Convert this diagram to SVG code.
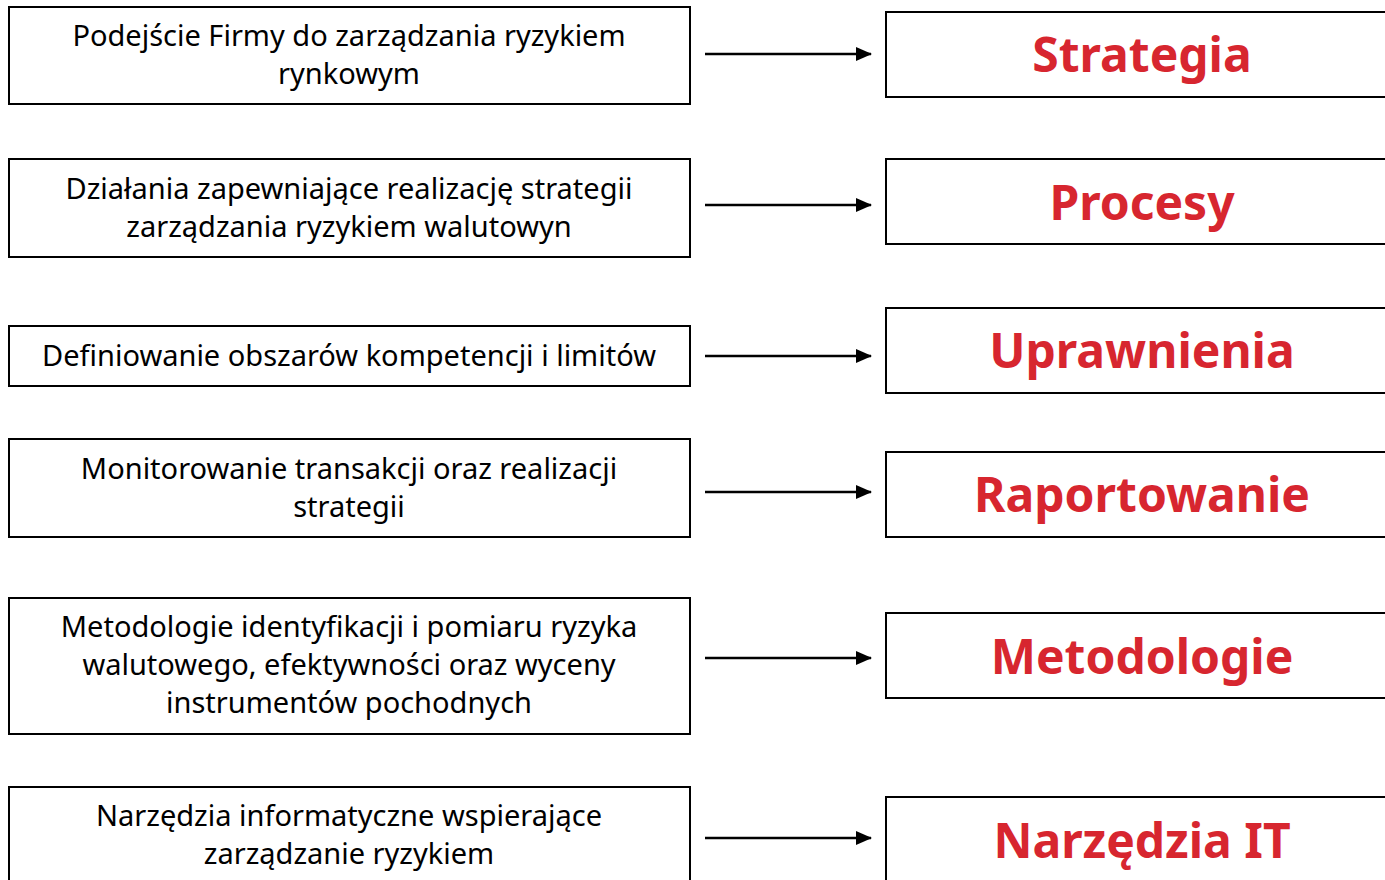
<svg xmlns="http://www.w3.org/2000/svg" width="1385" height="880" viewBox="0 0 1385 880">
<defs>
<marker id="ah" markerWidth="16" markerHeight="14" refX="15" refY="7" orient="auto" markerUnits="userSpaceOnUse">
<path d="M0,0 L16,7 L0,14 Z" fill="#000"/>
</marker>
<style>
.box{fill:#fff;stroke:#000;stroke-width:2}
.lt{font-family:"Noto Sans","Liberation Sans",sans-serif;font-size:29px;fill:#000;text-anchor:middle}
.rt{font-family:"Noto Sans","Liberation Sans",sans-serif;font-size:48px;font-weight:bold;fill:#d7262f;text-anchor:middle}
.con{stroke:#000;stroke-width:2.5;fill:none;marker-end:url(#ah)}
</style>
</defs>
<rect width="1385" height="880" fill="#fff"/>
<g id="l1"><rect class="box" x="9" y="7" width="681" height="97"/><text class="lt" x="349" y="46">Podejście Firmy do zarządzania ryzykiem</text><text class="lt" x="349" y="84">rynkowym</text></g>
<g id="l2"><rect class="box" x="9" y="159" width="681" height="98"/><text class="lt" x="349" y="199">Działania zapewniające realizację strategii</text><text class="lt" x="349" y="237">zarządzania ryzykiem walutowyn</text></g>
<g id="l3"><rect class="box" x="9" y="326" width="681" height="60"/><text class="lt" x="349" y="366">Definiowanie obszarów kompetencji i limitów</text></g>
<g id="l4"><rect class="box" x="9" y="439" width="681" height="98"/><text class="lt" x="349" y="479">Monitorowanie transakcji oraz realizacji</text><text class="lt" x="349" y="517">strategii</text></g>
<g id="l5"><rect class="box" x="9" y="598" width="681" height="136"/><text class="lt" x="349" y="637">Metodologie identyfikacji i pomiaru ryzyka</text><text class="lt" x="349" y="675">walutowego, efektywności oraz wyceny</text><text class="lt" x="349" y="713">instrumentów pochodnych</text></g>
<g id="l6"><rect class="box" x="9" y="787" width="681" height="110"/><text class="lt" x="349" y="826">Narzędzia informatyczne wspierające</text><text class="lt" x="349" y="864">zarządzanie ryzykiem</text></g>
<g id="r1"><rect class="box" x="886" y="12" width="520" height="85"/><text class="rt" x="1142" y="72">Strategia</text></g>
<g id="r2"><rect class="box" x="886" y="159" width="520" height="85"/><text class="rt" x="1142" y="220">Procesy</text></g>
<g id="r3"><rect class="box" x="886" y="308" width="520" height="85"/><text class="rt" x="1142" y="368">Uprawnienia</text></g>
<g id="r4"><rect class="box" x="886" y="452" width="520" height="85"/><text class="rt" x="1142" y="512">Raportowanie</text></g>
<g id="r5"><rect class="box" x="886" y="613" width="520" height="85"/><text class="rt" x="1142" y="674">Metodologie</text></g>
<g id="r6"><rect class="box" x="886" y="797" width="520" height="110"/><text class="rt" x="1142" y="858">Narzędzia IT</text></g>
<g id="connectors">
<line class="con" x1="705" y1="54" x2="871" y2="54"/>
<line class="con" x1="705" y1="205" x2="871" y2="205"/>
<line class="con" x1="705" y1="356" x2="871" y2="356"/>
<line class="con" x1="705" y1="492" x2="871" y2="492"/>
<line class="con" x1="705" y1="658" x2="871" y2="658"/>
<line class="con" x1="705" y1="838" x2="871" y2="838"/>
</g>
</svg>
